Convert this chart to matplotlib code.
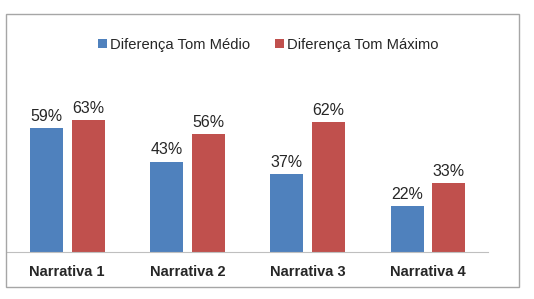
import matplotlib.pyplot as plt
from matplotlib.patches import Rectangle
import numpy as np

categories = ["Narrativa 1", "Narrativa 2", "Narrativa 3", "Narrativa 4"]
tom_medio = [59, 43, 37, 22]
tom_maximo = [63, 56, 62, 33]
series_names = ["Diferença Tom Médio", "Diferença Tom Máximo"]

plt.rcParams["font.family"] = ["Liberation Sans", "DejaVu Sans"]

W, H = 534, 299
fig = plt.figure(figsize=(W / 100, H / 100), dpi=100)

# outer chart border
fig.patches.append(Rectangle((6 / W, 1 - 287 / H), 513 / W, 273 / H,
                             transform=fig.transFigure, fill=False,
                             edgecolor="#A6A6A6", linewidth=1.0))

ax = fig.add_axes([7 / W, 1 - 252 / H, 481 / W, 192 / H])

x = np.arange(len(categories))
w = 0.275
b1 = ax.bar(x - 0.172, tom_medio, w, color="#4F81BD", label=series_names[0])
b2 = ax.bar(x + 0.175, tom_maximo, w, color="#C0504D", label=series_names[1])

for bars in (b1, b2):
    for r in bars:
        ax.text(r.get_x() + r.get_width() / 2, r.get_height() + 2,
                f"{r.get_height():.0f}%", ha="center", va="bottom",
                fontsize=11.5, color="#262626")

ax.set_xlim(-0.5, 3.5)
ax.set_ylim(0, 192 / 2.1)
ax.set_xticks(x)
ax.set_xticklabels(categories, fontsize=10.5, fontweight="bold", color="#262626")
ax.tick_params(axis="x", length=0, pad=9)
ax.set_yticks([])
for s in ("top", "right", "left"):
    ax.spines[s].set_visible(False)
ax.spines["bottom"].set_color("#BFBFBF")

fig.legend(handles=[b1, b2], loc="center", bbox_to_anchor=(0.503, 1 - 45 / H),
           ncol=2, frameon=False, fontsize=10.6, handlelength=0.6,
           handleheight=0.6, handletextpad=0.2, columnspacing=1.7,
           labelcolor="#262626")

fig.savefig("out.png", dpi=100)
